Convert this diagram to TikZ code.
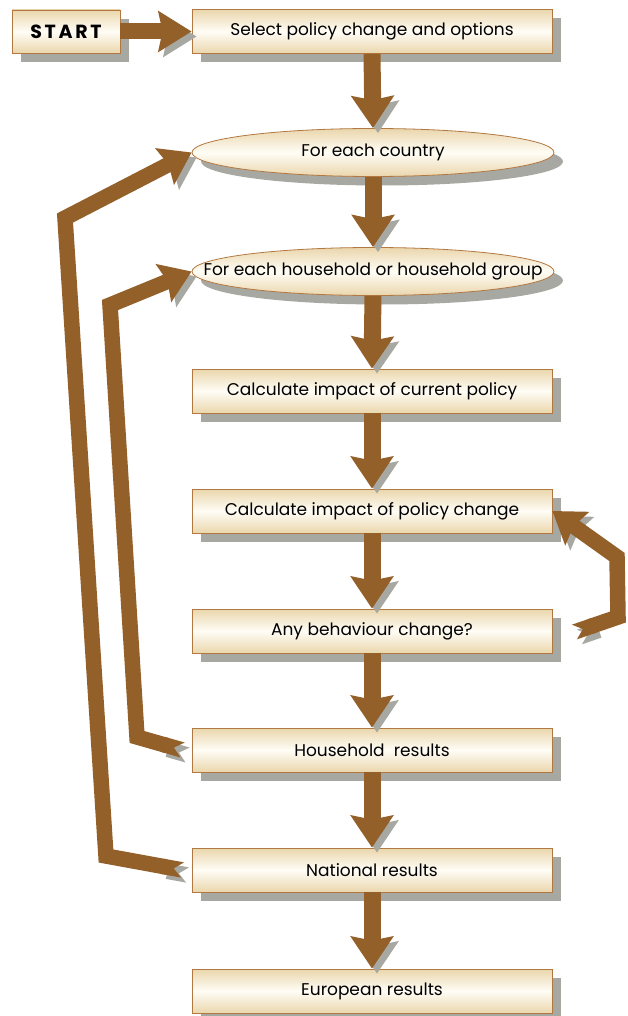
\documentclass[tikz,border=0pt]{standalone}
\usepackage{fontspec}
\setmainfont{Poppins}
\usetikzlibrary{arrows.meta,shapes.geometric,shadows,calc}
\definecolor{abrown}{RGB}{148,96,42}
\definecolor{bborder}{RGB}{178,120,66}
\definecolor{bedge}{RGB}{234,214,172}
\definecolor{bmid}{RGB}{255,253,246}
\definecolor{shgray}{RGB}{168,168,162}
\begin{document}
\begin{tikzpicture}[x=1pt,y=-1pt,
  boxbase/.style={draw=bborder, line width=0.8pt, top color=bedge, bottom color=bedge, middle color=bmid,
    inner sep=0pt, text=black, font=\fontsize{17}{19}\selectfont,
    general shadow={fill=shgray, shadow xshift=9pt, shadow yshift=-9pt}},
  box/.style={boxbase, rectangle, minimum width=360pt, minimum height=44pt},
  oval/.style={boxbase, ellipse, minimum width=362pt, minimum height=48pt, inner xsep=-60pt, inner ysep=-2pt},
  startbox/.style={boxbase, rectangle, minimum width=108pt, minimum height=43pt,
    font=\fontsize{19}{20}\selectfont\bfseries\addfontfeatures{LetterSpace=14}},
  arrowshadow/.style={preaction={draw=shgray, transform canvas={xshift=5pt,yshift=-5pt}}},
  flow/.style={arrowshadow, draw=abrown, line width=17pt, -{Stealth[width=42pt,length=32pt,inset=4pt]}},
  startflow/.style={arrowshadow, draw=abrown, line width=16pt, -{Stealth[width=40pt,length=33pt,inset=4pt]}},
  loopflow/.style={arrowshadow, draw=abrown, line width=15.5pt, line join=miter,
    {Triangle Cap[reversed,length=9pt]}-{Stealth[width=40pt,length=30pt,inset=4pt]}}
]
\useasboundingbox (0,0) rectangle (627,1016);
\fill[white] (0,0) rectangle (627,1016);

\node[startbox] (start) at (66,31.5) {START};
\node[box] (sel) at (372,31.5) {Select policy change and options};
\node[oval] (cty) at (373,152.5) {For each country};
\node[oval] (hhg) at (373,271.5) {For each household or household group};
\node[box] (cur) at (372,391) {Calculate impact of current policy};
\node[box] (chg) at (372,511) {Calculate impact of policy change};
\node[box] (beh) at (372,631) {Any behaviour change?};
\node[box] (hh) at (372,750) {Household\ \ results};
\node[box] (nat) at (372,870) {National results};
\node[box] (eu) at (372,991) {European results};

\coordinate (o1) at (106,856);
\coordinate (o2) at (65,218);
\coordinate (i1) at (137,737);
\coordinate (i2) at (110,305);
\coordinate (r1) at (618,617);
\coordinate (r2) at (617,557);

\draw[startflow] (start.east) -- (sel.west);
\draw[flow] (sel.south) -- (cty.north);
\draw[flow] (cty.south) -- (hhg.north);
\draw[flow] (hhg.south) -- (cur.north);
\draw[flow] (cur.south) -- (chg.north);
\draw[flow] (chg.south) -- (beh.north);
\draw[flow] (beh.south) -- (hh.north);
\draw[flow] (hh.south) -- (nat.north);
\draw[flow] (nat.south) -- (eu.north);

\draw[loopflow] ($(nat.west)+(-9,0)$) -- (o1) -- (o2) -- (cty.west);
\draw[loopflow] ($(hh.west)+(-9,0)$) -- (i1) -- (i2) -- (hhg.west);
\draw[loopflow] ($(beh.east)+(22,1)$) -- (r1) -- (r2) -- (chg.east);
\end{tikzpicture}
\end{document}
